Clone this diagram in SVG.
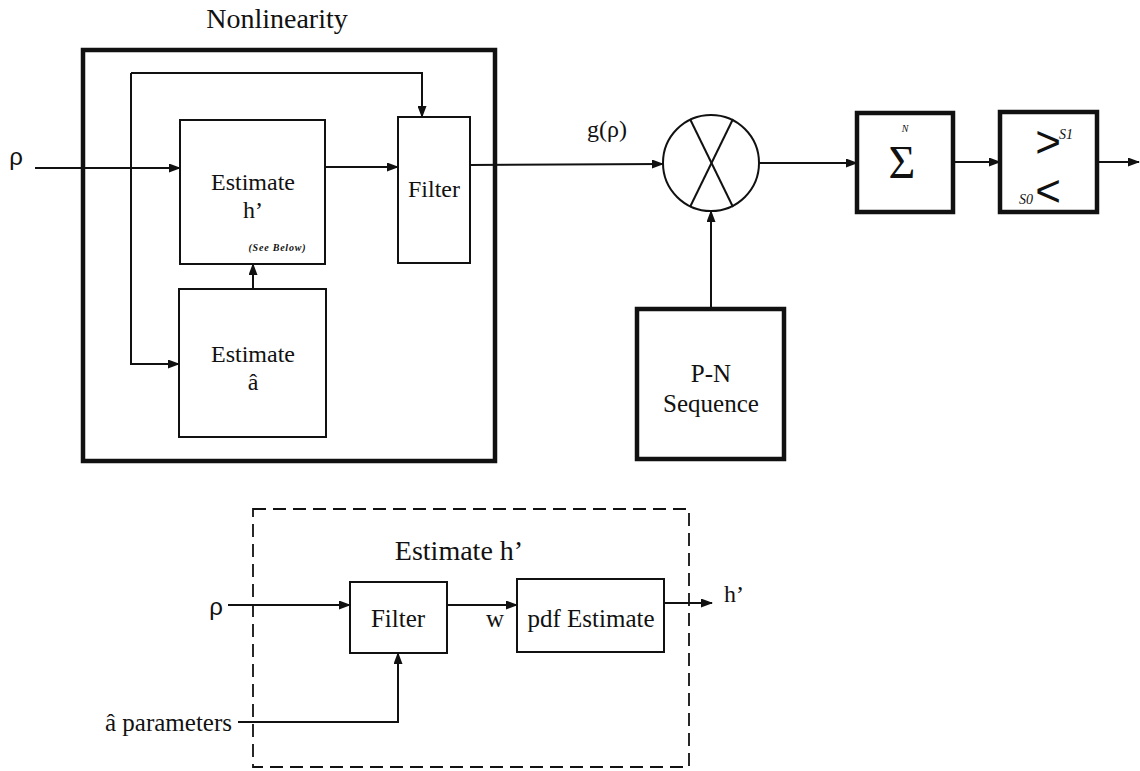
<svg xmlns="http://www.w3.org/2000/svg" width="1140" height="771" viewBox="0 0 1140 771">
<style>
.t{font-family:"Liberation Serif","Times New Roman",serif;fill:#111;text-anchor:middle}
.s{font-family:"Liberation Sans",Arial,sans-serif;fill:#111;text-anchor:middle}
.box{fill:#fff;stroke:#111;stroke-width:2}
.thick{fill:#fff;stroke:#111;stroke-width:4.5}
.c{fill:none;stroke:#111;stroke-width:2}
</style>
<defs>
<marker id="ah" markerUnits="userSpaceOnUse" markerWidth="12" markerHeight="9" refX="11" refY="4.5" orient="auto">
<path d="M0,0 L12,4.5 L0,9 z" fill="#111"/>
</marker>
</defs>
<rect width="1140" height="771" fill="#fff"/>

<g id="nonlinearity">
<rect class="thick" x="83" y="50" width="412" height="411"/>
<text class="t" x="277" y="28" font-size="28">Nonlinearity</text>
</g>

<g id="connectors">
<line class="c" x1="35" y1="168" x2="180" y2="168" marker-end="url(#ah)"/>
<path class="c" d="M131,73 V364 H179" marker-end="url(#ah)"/>
<path class="c" d="M131,73 H422 V117" marker-end="url(#ah)"/>
<line class="c" x1="325" y1="167" x2="398" y2="167" marker-end="url(#ah)"/>
<line class="c" x1="253" y1="289" x2="253" y2="264" marker-end="url(#ah)"/>
<line class="c" x1="470" y1="165" x2="663" y2="164" marker-end="url(#ah)"/>
<line class="c" x1="711" y1="309" x2="711" y2="211" marker-end="url(#ah)"/>
<line class="c" x1="759" y1="163" x2="857" y2="163" marker-end="url(#ah)"/>
<line class="c" x1="953" y1="162" x2="1000" y2="162" marker-end="url(#ah)"/>
<line class="c" x1="1097" y1="162" x2="1139" y2="162" marker-end="url(#ah)"/>
<line class="c" x1="228" y1="605" x2="350" y2="605" marker-end="url(#ah)"/>
<line class="c" x1="447" y1="605" x2="517" y2="605" marker-end="url(#ah)"/>
<line class="c" x1="664" y1="603" x2="712" y2="603" marker-end="url(#ah)"/>
<path class="c" d="M238,722 H398 V653" marker-end="url(#ah)"/>
</g>

<g id="rho-in"><text class="s" x="16" y="165" font-size="24">ρ</text></g>

<g id="estimate-h">
<rect class="box" x="180" y="120" width="145" height="144"/>
<text class="t" x="253" y="190" font-size="24">Estimate</text>
<text class="t" x="253" y="218" font-size="24">h’</text>
<text class="t" x="277" y="251" font-size="10" font-style="italic" font-weight="bold" textLength="57">(See Below)</text>
</g>

<g id="filter-top">
<rect class="box" x="398" y="117" width="72" height="146"/>
<text class="t" x="434" y="197" font-size="24">Filter</text>
</g>

<g id="estimate-a">
<rect class="box" x="179" y="289" width="147" height="148"/>
<text class="t" x="253" y="362" font-size="24">Estimate</text>
<text class="t" x="253" y="390" font-size="24">â</text>
</g>

<g id="g-label"><text class="t" x="607" y="137" font-size="24">g(ρ)</text></g>

<g id="multiplier">
<circle cx="711" cy="163" r="48" fill="#fff" stroke="#111" stroke-width="2"/>
<line class="c" x1="690" y1="119" x2="733" y2="207"/>
<line class="c" x1="733" y1="119" x2="690" y2="207"/>
</g>

<g id="pn-sequence">
<rect class="thick" x="637" y="309" width="147" height="150"/>
<text class="t" x="711" y="382" font-size="25">P-N</text>
<text class="t" x="711" y="412" font-size="25">Sequence</text>
</g>

<g id="sum">
<rect class="thick" x="857" y="113" width="96" height="99"/>
<text class="t" x="902" y="178" font-size="46">Σ</text>
<text class="t" x="905" y="132" font-size="10" font-style="italic">N</text>
</g>

<g id="detector">
<rect class="thick" x="1000" y="112" width="97" height="100"/>
<text class="s" x="1048" y="157" font-size="44">&gt;</text>
<text class="t" x="1066" y="139" font-size="14" font-style="italic">S1</text>
<text class="s" x="1048" y="206" font-size="44">&lt;</text>
<text class="t" x="1026" y="204" font-size="14" font-style="italic">S0</text>
</g>

<g id="estimate-h-detail">
<rect x="253" y="509" width="436" height="258" fill="none" stroke="#111" stroke-width="1.8" stroke-dasharray="13,7"/>
<text class="t" x="459" y="560" font-size="28">Estimate h’</text>
</g>

<g id="rho-in-2"><text class="s" x="216" y="615" font-size="24">ρ</text></g>

<g id="filter-bottom">
<rect class="box" x="350" y="582" width="97" height="71"/>
<text class="t" x="398" y="627" font-size="25">Filter</text>
</g>

<g id="w-label"><text class="t" x="495" y="627" font-size="25">w</text></g>

<g id="pdf-estimate">
<rect class="box" x="517" y="579" width="147" height="73"/>
<text class="t" x="591" y="627" font-size="25">pdf Estimate</text>
</g>

<g id="h-out"><text class="t" x="734" y="602" font-size="24">h’</text></g>

<g id="a-params"><text class="t" x="232" y="731" font-size="25" style="text-anchor:end">â parameters</text></g>
</svg>
